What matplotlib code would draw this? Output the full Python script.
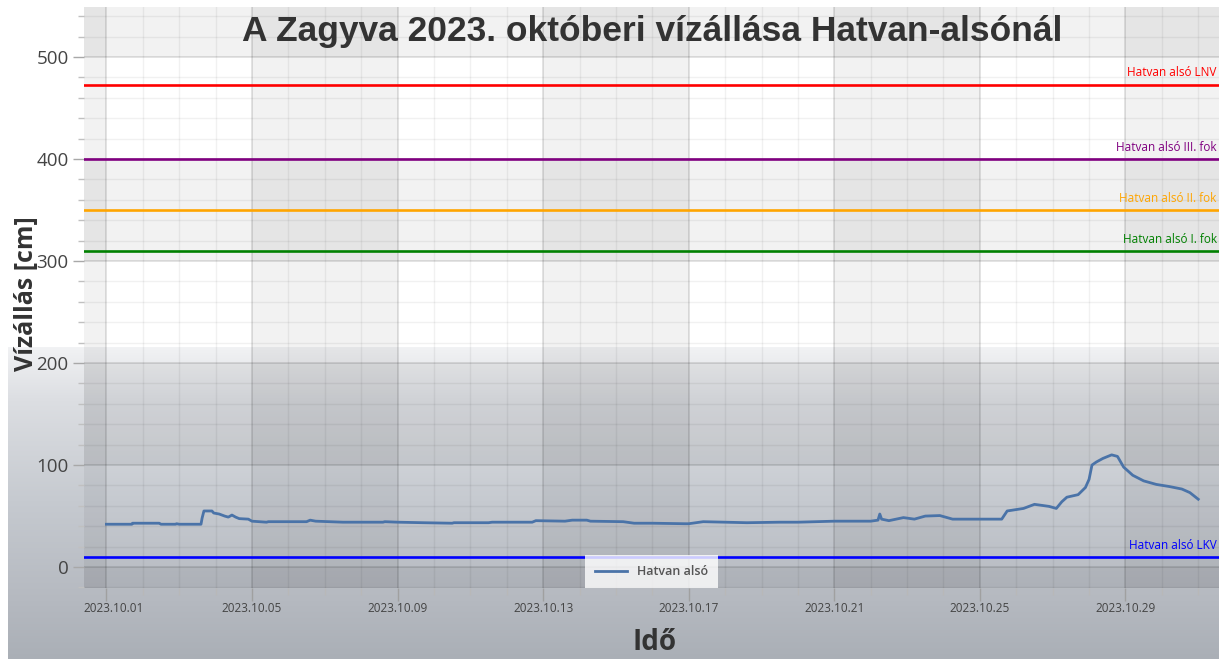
import numpy as np
import pandas as pd
import matplotlib
matplotlib.use('Agg')
import matplotlib.pyplot as plt
import matplotlib.dates as mdates
from matplotlib.ticker import MultipleLocator
from matplotlib.transforms import ScaledTranslation

plt.rcParams['font.family'] = ['Open Sans', 'DejaVu Sans']

# --- data ---
start = pd.Timestamp('2023-10-01 00:00')
days = [0.00, 0.70, 0.72, 1.45, 1.50, 1.90, 1.93, 2.00, 2.60, 2.63, 2.68, 2.90,
        2.95, 3.10, 3.25, 3.35, 3.45, 3.55, 3.65, 3.90, 4.00, 4.40, 4.45, 5.50,
        5.60, 5.75, 6.50, 7.60, 7.65, 8.00, 8.70, 9.50, 9.55, 10.5, 10.6, 11.7,
        11.8, 12.6, 12.8, 13.2, 13.3, 14.2, 14.5, 15.0, 15.9, 16.0, 16.4, 17.6,
        18.5, 19.0, 20.0, 21.0, 21.2, 21.25, 21.3, 21.5, 21.9, 22.2, 22.5, 22.9,
        23.25, 24.6, 24.75, 25.2, 25.5, 25.9, 26.1, 26.25, 26.39, 26.7, 26.9,
        27.0, 27.08, 27.2, 27.38, 27.62, 27.78, 27.95, 28.2, 28.5, 28.85, 29.2,
        29.55, 29.77, 30.0]
level = [42, 42, 43, 43, 42, 42, 42.5, 42, 42, 48, 55, 55,
         53, 52, 50, 49, 51, 49, 47.5, 47, 45, 44, 44.5, 44.5,
         46, 45, 44, 44, 44.5, 44, 43.5, 43, 43.5, 43.5, 44, 44,
         45.5, 45, 46, 46, 45, 44.5, 43, 43, 42.5, 42.5, 44.5, 43.5,
         44, 44, 45, 45, 46, 52, 47, 45.5, 48.5, 47, 50, 50.5,
         47, 47, 55, 57.5, 61.5, 59.5, 57.5, 64, 68.5, 71, 78,
         86, 100, 103, 106.5, 110, 108.5, 98, 90, 84.5, 81, 79,
         76.5, 73, 66.5]
times = start + pd.to_timedelta(days, unit='D')

ref_names = ['Hatvan alsó LNV', 'Hatvan alsó III. fok', 'Hatvan alsó II. fok',
             'Hatvan alsó I. fok', 'Hatvan alsó LKV']
ref_values = [473, 400, 350, 310, 10]
ref_colors = ['#ff0000', '#800080', '#ffa500', '#008000', '#0000ff']

W, H = 1219, 659
fig = plt.figure(figsize=(W / 100, H / 100), dpi=100)
fig.patch.set_facecolor('white')

# background gradient (white on top, grey at bottom)
bg = fig.add_axes([8 / W, 0, 1 - 8 / W, 1], zorder=-5)
rows = np.arange(H)
anchor_y = [0, 346, 347, 400, 500, 600, 659]
anchor_c = np.array([[255, 255, 255], [255, 255, 255], [241, 242, 244],
                     [220, 222, 226], [198, 202, 208], [181, 185, 192],
                     [170, 175, 182]]) / 255.0
grad = np.stack([np.interp(rows, anchor_y, anchor_c[:, k]) for k in range(3)], axis=-1)
bg.imshow(grad[:, None, :], aspect='auto', extent=[0, 1, 0, 1], origin='upper')
bg.axis('off')

ax = fig.add_axes([84 / W, 71 / H, 1135 / W, 581 / H])
ax.patch.set_alpha(0)

xmin = start - pd.Timedelta(days=0.615)
xmax = start + pd.Timedelta(days=30.57)
ymin, ymax = -20.5, 549
ax.set_xlim(xmin, xmax)
ax.set_ylim(ymin, ymax)

# alternating bands
band = dict(color='black', alpha=0.05, lw=0, zorder=0)
for lo, hi in [(500, ymax), (300, 400), (100, 200), (ymin, 0)]:
    ax.axhspan(lo, hi, **band)
col_edges = [xmin] + [start + pd.Timedelta(days=d) for d in range(0, 29, 4)] + [xmax]
for i in range(0, len(col_edges) - 1, 2):
    ax.axvspan(col_edges[i], col_edges[i + 1], **band)

# grid
ax.xaxis.set_major_locator(mdates.DayLocator(bymonthday=[1, 5, 9, 13, 17, 21, 25, 29]))
ax.xaxis.set_minor_locator(mdates.DayLocator())
ax.xaxis.set_major_formatter(mdates.DateFormatter('%Y.%m.%d'))
ax.yaxis.set_major_locator(MultipleLocator(100))
ax.yaxis.set_minor_locator(MultipleLocator(20))
ax.grid(which='major', color='black', alpha=0.14, lw=1.1, zorder=1)
ax.grid(which='minor', color='black', alpha=0.055, lw=1.0, zorder=1)
ax.set_axisbelow(True)
for s in ax.spines.values():
    s.set_visible(False)

ax.tick_params(axis='y', which='major', length=8, width=1, color='#a8a8a8',
               labelsize=13.5, labelcolor='#444444', pad=3)
ax.tick_params(axis='y', which='minor', length=4, width=1, color='#c0c0c0')
ax.tick_params(axis='x', which='major', length=9, width=1, color='#a0a0a0',
               labelsize=8.5, labelcolor='#444444', pad=1)
ax.tick_params(axis='x', which='minor', length=5, width=1, color='#b8b8b8')

# reference lines
for name, val, c in zip(ref_names, ref_values, ref_colors):
    ax.axhline(val, color=c, lw=1.9, zorder=3)
    ax.text(0.998, val + 5, name, color=c, fontsize=8.5, ha='right', va='bottom',
            transform=ax.get_yaxis_transform(), zorder=4)

ax.plot(times, level, color='#4a73a8', lw=2, label='Hatvan alsó', zorder=5)

leg = ax.legend(loc='lower center', frameon=True, fontsize=9, borderaxespad=0,
                handlelength=2.5, borderpad=0.8, fancybox=False)
leg.get_frame().set_facecolor((1, 1, 1, 0.4))
leg.get_frame().set_edgecolor('none')
for t in leg.get_texts():
    t.set_color('#555555')
    t.set_fontweight('semibold')

# first date label is pushed inside the plot area
fig.canvas.draw()
first = ax.get_xticklabels()[0]
first.set_transform(first.get_transform() + ScaledTranslation(0.07, 0, fig.dpi_scale_trans))

fig.text(652 / W, 1 - 31 / H, 'A Zagyva 2023. októberi vízállása Hatvan-alsónál',
         ha='center', va='center', fontsize=25.5, fontweight='bold', color='#333333',
         family=['Liberation Sans Narrow', 'Liberation Sans'])
fig.text(26 / W, 1 - 294 / H, 'Vízállás [cm]', rotation=90, ha='center', va='center',
         fontsize=18, fontweight='bold', color='#333333')
fig.text(655 / W, 1 - 643 / H, 'Idő', ha='center', va='center',
         fontsize=20, fontweight='bold', color='#333333')

fig.savefig('out.png', dpi=100)
